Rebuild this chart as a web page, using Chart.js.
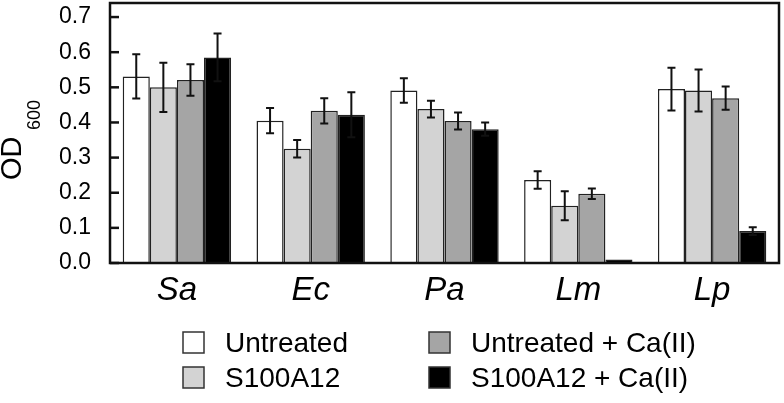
<!DOCTYPE html>
<html>
<head>
<meta charset="utf-8">
<script src="https://cdn.jsdelivr.net/npm/chart.js@4.4.1/dist/chart.umd.min.js"></script>
<style>
  html, body { margin:0; padding:0; background:#fff; }
  #wrap { width:784px; height:403px; position:relative; }
</style>
</head>
<body>
<div id="wrap"><canvas id="c" width="784" height="403"></canvas></div>
<script>
// --- data ---
const categories = ['Sa', 'Ec', 'Pa', 'Lm', 'Lp'];
const seriesNames = ['Untreated', 'S100A12', 'Untreated + Ca(II)', 'S100A12 + Ca(II)'];
const untreated     = [0.531, 0.405, 0.491, 0.236, 0.495];
const s100a12       = [0.500, 0.325, 0.438, 0.163, 0.491];
const untreatedCa   = [0.521, 0.433, 0.404, 0.197, 0.469];
const s100a12Ca     = [0.585, 0.422, 0.381, 0.010, 0.091];
const errUntreated   = [0.063, 0.036, 0.035, 0.025, 0.061];
const errS100a12     = [0.070, 0.025, 0.024, 0.041, 0.060];
const errUntreatedCa = [0.045, 0.036, 0.024, 0.015, 0.033];
const errS100a12Ca   = [0.068, 0.064, 0.019, 0.000, 0.011];
const yTicks = [0, 0.1, 0.2, 0.3, 0.4, 0.5, 0.6, 0.7];

const FONT = "'Liberation Sans', Arial, sans-serif";
const INK  = '#111111';
const FILLS = ['#ffffff', '#d3d3d3', '#a5a5a5', '#000000'];

const values = [untreated, s100a12, untreatedCa, s100a12Ca];
const errors = [errUntreated, errS100a12, errUntreatedCa, errS100a12Ca];

// error bars, inward y ticks, frame, y title, 2x2 legend
const decor = {
  id: 'decor',
  afterDatasetsDraw(chart) {
    const { ctx } = chart;
    const y = chart.scales.y;
    ctx.save();
    ctx.strokeStyle = INK;
    ctx.lineWidth = 2;
    chart.data.datasets.forEach((ds, i) => {
      chart.getDatasetMeta(i).data.forEach((bar, j) => {
        const e = ds.err[j];
        if (!e) return;
        const hi = y.getPixelForValue(ds.data[j] + e);
        const lo = y.getPixelForValue(ds.data[j] - e);
        ctx.beginPath();
        ctx.moveTo(bar.x, hi); ctx.lineTo(bar.x, lo);
        ctx.moveTo(bar.x - 4, hi); ctx.lineTo(bar.x + 4, hi);
        ctx.moveTo(bar.x - 4, lo); ctx.lineTo(bar.x + 4, lo);
        ctx.stroke();
      });
    });
    ctx.restore();
  },
  afterDraw(chart) {
    const { ctx, chartArea: a } = chart;
    const y = chart.scales.y;
    ctx.save();
    // inward ticks
    ctx.strokeStyle = INK;
    ctx.lineWidth = 2.5;
    yTicks.forEach(v => {
      const py = y.getPixelForValue(v);
      ctx.beginPath(); ctx.moveTo(a.left, py); ctx.lineTo(a.left + 9, py); ctx.stroke();
    });
    // frame
    ctx.strokeRect(a.left, a.top, a.right - a.left, a.bottom - a.top);

    // y title: OD with subscript 600
    ctx.fillStyle = '#000';
    ctx.translate(0, 180);
    ctx.rotate(-Math.PI / 2);
    ctx.textBaseline = 'alphabetic';
    ctx.textAlign = 'left';
    ctx.font = '29px ' + FONT;
    ctx.fillText('OD', 0, 21);
    ctx.font = '18px ' + FONT;
    ctx.fillText('600', 50, 40);
    ctx.setTransform(1, 0, 0, 1, 0, 0);

    // legend, two columns (filled column-wise)
    const cols = [183, 429], rows = [343, 378];
    ctx.font = '28px ' + FONT;
    ctx.textBaseline = 'middle';
    chart.data.datasets.forEach((ds, k) => {
      const cx = cols[Math.floor(k / 2)], cy = rows[k % 2];
      ctx.fillStyle = ds.backgroundColor;
      ctx.fillRect(cx, cy - 11, 21, 21);
      ctx.lineWidth = 1.5;
      ctx.strokeStyle = '#333';
      ctx.strokeRect(cx, cy - 11, 21, 21);
      ctx.fillStyle = '#000';
      ctx.fillText(ds.label, cx + 42, cy + 1);
    });
    ctx.restore();
  }
};

new Chart(document.getElementById('c'), {
  type: 'bar',
  data: {
    labels: categories,
    datasets: seriesNames.map((name, i) => ({
      label: name,
      data: values[i],
      err: errors[i],
      backgroundColor: FILLS[i],
      borderColor: '#222222',
      borderWidth: 1.5,
      borderSkipped: 'bottom',
    })),
  },
  plugins: [decor],
  options: {
    responsive: false,
    animation: false,
    layout: { padding: { top: 3, right: 5, bottom: 85, left: 0 } },
    datasets: { bar: { categoryPercentage: 0.81, barPercentage: 1.0 } },
    plugins: { legend: { display: false }, tooltip: { enabled: false } },
    scales: {
      x: {
        grid: { display: false },
        border: { display: false },
        ticks: { color: '#000', font: { family: FONT, size: 33, style: 'italic' }, padding: 0, maxRotation: 0 },
        afterFit: s => { s.height = 55; },
      },
      y: {
        min: 0, max: 0.74,
        grid: { display: false, drawTicks: false },
        border: { display: false },
        ticks: { color: '#000', font: { family: FONT, size: 23 }, padding: 19, callback: v => v.toFixed(1) },
        afterBuildTicks: s => { s.ticks = yTicks.map(v => ({ value: v })); },
        afterFit: s => { s.width = 110; s.paddingTop = 0; s.paddingBottom = 0; },
      },
    },
  },
});
</script>
</body>
</html>
